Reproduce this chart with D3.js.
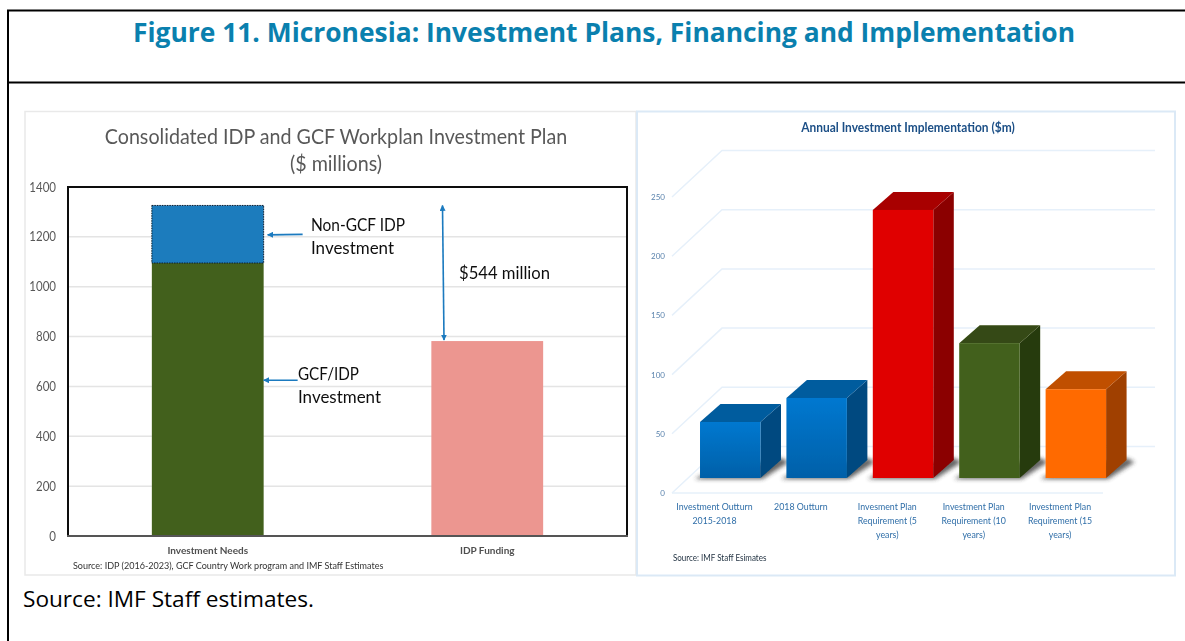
<!DOCTYPE html>
<html><head><meta charset="utf-8">
<script src="https://cdn.jsdelivr.net/npm/d3@7"></script>
<style>html,body{margin:0;padding:0;background:#fff}svg{display:block}text{font-family:Lato,"Open Sans",sans-serif}</style>
</head><body><svg id="c" width="1185" height="641"></svg>
<script>
const figureTitle = "Figure 11. Micronesia: Investment Plans, Financing and Implementation";
const footer = "Source: IMF Staff estimates.";
// left chart
const leftTitle = ["Consolidated IDP and GCF Workplan Investment Plan", "($ millions)"];
const leftCategories = ["Investment Needs", "IDP Funding"];
const gcfIdp = [1095, 782];
const nonGcf = [231, 0];
const leftTicks = [0, 200, 400, 600, 800, 1000, 1200, 1400];
const leftSource = "Source: IDP (2016-2023), GCF Country Work program and IMF Staff Estimates";
// right chart
const rightTitle = "Annual Investment Implementation ($m)";
const rightCategories = [
  ["Investment Outturn", "2015-2018"],
  ["2018 Outturn"],
  ["Invesment Plan", "Requirement (5", "years)"],
  ["Investment Plan", "Requirement (10", "years)"],
  ["Investment Plan", "Requirement (15", "years)"]];
const rightValues = [47.3, 67.6, 226.4, 113.9, 75];
const rightTicks = [0, 50, 100, 150, 200, 250];
const rightSource = "Source: IMF Staff Esimates";
const rightFronts = ["#0078d0", "#0078d0", "#e00000", "#42611a", "#ff6a00"];
const rightFrontEnds = ["#0060a8", "#0060a8", "#e00000", "#42611a", "#ff6a00"];
const rightTops = ["#005b9e", "#005b9e", "#a80000", "#344a12", "#c05000"];
const rightSides = ["#004a80", "#004a80", "#8b0000", "#283a08", "#a04000"];

const svg = d3.select("#c");
const defs = svg.append("defs");
defs.append("filter").attr("id","sh").attr("x","-20%").attr("y","-50%").attr("width","140%").attr("height","200%")
  .append("feGaussianBlur").attr("stdDeviation",2.2);
defs.append("filter").attr("id","soft").attr("filterUnits","userSpaceOnUse").attr("x",0).attr("y",100).attr("width",1185).attr("height",500)
  .append("feGaussianBlur").attr("stdDeviation",0.4);
defs.append("marker").attr("id","ar").attr("viewBox","0 0 10 10").attr("refX",9).attr("refY",5)
  .attr("markerWidth",6).attr("markerHeight",6).attr("orient","auto-start-reverse").attr("markerUnits","userSpaceOnUse")
  .append("path").attr("d","M0,0L10,5L0,10z").attr("fill","#1a7abf");
// squeeze Lato to the narrower lettering of the reference
const squeeze = (sel, f) => sel.each(function(){
  const n = this.getComputedTextLength();
  d3.select(this).attr("textLength", n*f).attr("lengthAdjust","spacingAndGlyphs");
});

// frame
const frame = svg.append("g").attr("stroke","#000").attr("stroke-width",2);
frame.append("line").attr("x1",7).attr("x2",1185).attr("y1",10.5).attr("y2",10.5);
frame.append("line").attr("x1",7).attr("x2",1185).attr("y1",82.5).attr("y2",82.5);
frame.append("line").attr("x1",8).attr("x2",8).attr("y1",10).attr("y2",641);
svg.append("text").attr("x",604).attr("y",42).attr("text-anchor","middle").attr("fill","#0a80ae")
  .style("font-family","'Open Sans'").style("font-weight",700).style("font-size","26.4px").text(figureTitle);
svg.append("text").attr("x",23).attr("y",607).attr("fill","#000")
  .style("font-family","'Open Sans'").style("font-size","22px")
  .attr("textLength",291).attr("lengthAdjust","spacingAndGlyphs").text(footer);

// LEFT
svg.append("rect").attr("x",25).attr("y",111.5).attr("width",611).attr("height",463.5).attr("fill","#fff").attr("stroke","#e9e9e9").attr("stroke-width",1.5);
const L = svg.append("g").attr("filter","url(#soft)");
const lx = d3.scaleBand().domain(leftCategories).range([68,627]).paddingInner(.6).paddingOuter(.3);
const ly = d3.scaleLinear().domain([0,1400]).range([536,187]);
L.selectAll("text.t").data(leftTitle).join("text").attr("class","t").attr("x",336).attr("y",(d,i)=>144+i*27)
  .attr("text-anchor","middle").attr("fill","#595959").style("font-size","21.5px").text(d=>d).call(squeeze,.915);
const yAxisL = L.append("g").attr("transform","translate(68,0)").call(d3.axisLeft(ly).tickValues(leftTicks).tickFormat(d3.format("d")).tickSize(0).tickPadding(12));
yAxisL.select(".domain").remove();
yAxisL.selectAll("text").attr("fill","#595959").style("font-size","12.5px").style("font-family","Lato").call(squeeze,.92);
L.selectAll("line.g").data(leftTicks.filter(d=>d>0&&d<1400)).join("line").attr("class","g")
  .attr("x1",68).attr("x2",627).attr("y1",d=>ly(d)).attr("y2",d=>ly(d)).attr("stroke","#e4e4e4").attr("stroke-width",1.5);
L.selectAll("rect.a").data(leftCategories).join("rect").attr("class","a").attr("x",d=>lx(d)).attr("width",lx.bandwidth())
  .attr("y",(d,i)=>ly(gcfIdp[i])).attr("height",(d,i)=>ly(0)-ly(gcfIdp[i])).attr("fill",(d,i)=>i?"#ec9690":"#42611a");
L.selectAll("rect.b").data(leftCategories.filter((d,i)=>nonGcf[i]>0)).join("rect").attr("class","b").attr("x",d=>lx(d)).attr("width",lx.bandwidth())
  .attr("y",(d,i)=>ly(gcfIdp[i]+nonGcf[i])).attr("height",(d,i)=>ly(0)-ly(nonGcf[i])).attr("fill","#1b7cbd")
  .attr("stroke","#0a1a2a").attr("stroke-width",1).attr("stroke-dasharray","1.5 1");
L.append("path").attr("d","M68,536V187H627V536").attr("fill","none").attr("stroke","#111").attr("stroke-width",2);
L.append("line").attr("x1",67).attr("x2",628).attr("y1",536).attr("y2",536).attr("stroke","#555").attr("stroke-width",2);
L.selectAll("text.c").data(leftCategories).join("text").attr("class","c").attr("x",d=>lx(d)+lx.bandwidth()/2).attr("y",554)
  .attr("text-anchor","middle").attr("fill","#505050").style("font-size","10px").style("font-weight",700).text(d=>d);
L.append("text").attr("x",73).attr("y",569).attr("fill","#333").style("font-size","9.5px").text(leftSource).call(squeeze,.95);
const anno = [["Non-GCF IDP",311,231,94],["Investment",311,254,83],["$544 million",459,279,91],["GCF/IDP",298,380,61],["Investment",298,403,83]];
L.selectAll("text.n").data(anno).join("text").attr("class","n").attr("x",d=>d[1]).attr("y",d=>d[2]).attr("fill","#111")
  .style("font-size","17px").attr("textLength",d=>d[3]).attr("lengthAdjust","spacingAndGlyphs").text(d=>d[0]);
const barR = lx(leftCategories[0])+lx.bandwidth();
[[barR+39,ly(1210),barR+4,ly(1208)],[barR+34,ly(625),barR,ly(625)]].forEach(a=>
  L.append("line").attr("x1",a[0]).attr("y1",a[1]).attr("x2",a[2]).attr("y2",a[3]).attr("stroke","#1a7abf").attr("stroke-width",1.6).attr("marker-end","url(#ar)"));
L.append("line").attr("x1",442.5).attr("y1",ly(gcfIdp[0]+nonGcf[0])).attr("x2",444).attr("y2",ly(gcfIdp[1])-1)
  .attr("stroke","#1a7abf").attr("stroke-width",1.6).attr("marker-end","url(#ar)").attr("marker-start","url(#ar)");

// RIGHT
svg.append("rect").attr("x",637).attr("y",111.5).attr("width",538).attr("height",464).attr("fill","#fff").attr("stroke","#dbe9f6").attr("stroke-width",2);
const R = svg.append("g").attr("filter","url(#soft)");
const dxWall = 50, dyWall = -46.5;
const rx = d3.scaleBand().domain(rightCategories.map(d=>d.join(" "))).range([671.3,1103.3]).paddingInner(.3).paddingOuter(.15);
const yFront = d3.scaleLinear().domain([0,250]).range([493,197]);
R.append("text").attr("x",908).attr("y",132).attr("text-anchor","middle").attr("fill","#1c4f86")
  .style("font-size","12.5px").style("font-weight",700).text(rightTitle).call(squeeze,.955);
const yAxisR = R.append("g").attr("transform","translate(665,0)").call(d3.axisLeft(yFront).tickValues(rightTicks).tickSize(0).tickPadding(0));
yAxisR.select(".domain").remove();
yAxisR.selectAll("text").attr("fill","#5b83ad").style("font-size","8px").style("font-family","Lato");
const gridC = "#e6f0fa";
R.selectAll("path.w").data(rightTicks).join("path").attr("class","w")
  .attr("d",d=>`M672,${yFront(d)}L${672+dxWall},${yFront(d)+dyWall}H1155`).attr("fill","none").attr("stroke",gridC).attr("stroke-width",1.5);
R.append("line").attr("x1",672).attr("x2",1103).attr("y1",yFront(0)).attr("y2",yFront(0)).attr("stroke",gridC).attr("stroke-width",1.5);
const bxOff = 15.75, bdx = 20.5, bdy = -18;
const yBar = v => yFront(v) - 15;
const base = yBar(0);
rightCategories.forEach((c,i)=>{
  const k = c.join(" "), x0 = rx(k)+bxOff, w = rx.bandwidth(), x1 = x0+w, t = yBar(rightValues[i]);
  R.append("path").attr("d",`M${x0-5},${base+1}L${x1+2},${base+1}L${x1+bdx+8},${base+bdy+2}L${x1+bdx},${base+bdy-2}L${x0},${base-2}z`)
    .attr("fill","#333").attr("opacity",.75).attr("filter","url(#sh)");
  const gid = "g"+i;
  const lg = defs.append("linearGradient").attr("id",gid).attr("x1",0).attr("x2",0).attr("y1",0).attr("y2",1);
  lg.append("stop").attr("offset",0).attr("stop-color",rightFronts[i]);
  lg.append("stop").attr("offset",1).attr("stop-color",rightFrontEnds[i]);
  R.append("path").attr("d",`M${x1},${t}L${x1+bdx},${t+bdy}V${base+bdy}L${x1},${base}z`).attr("fill",rightSides[i]);
  R.append("path").attr("d",`M${x0},${t}L${x0+bdx},${t+bdy}H${x1+bdx}L${x1},${t}z`).attr("fill",rightTops[i]);
  R.append("rect").attr("x",x0).attr("y",t).attr("width",w).attr("height",base-t).attr("fill",`url(#${gid})`);
  R.selectAll(null).data(c).join("text").attr("text-anchor","middle").attr("fill","#2f6ea8").style("font-size","10px")
    .attr("x",rx(k)+w/2).attr("y",(d,j)=>510+j*14).text(d=>d).call(squeeze,.88);
});
R.append("text").attr("x",673).attr("y",561).attr("fill","#1f2f3f").style("font-size","9px").text(rightSource).call(squeeze,.89);
</script></body></html>
